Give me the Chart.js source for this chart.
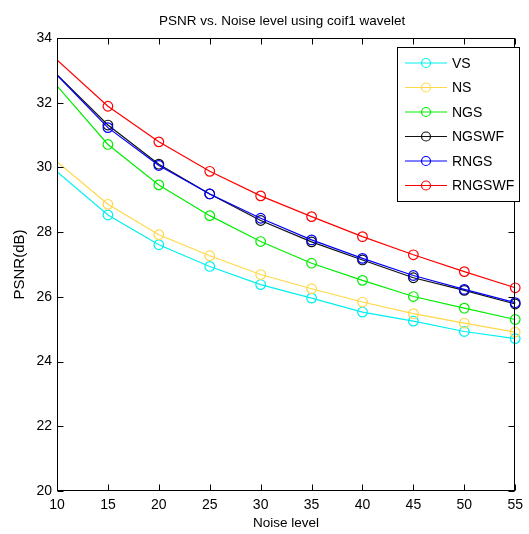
<!DOCTYPE html>
<html><head><meta charset="utf-8">
<script src="https://cdn.jsdelivr.net/npm/chart.js@4/dist/chart.umd.min.js"></script>
<style>html,body{margin:0;padding:0;background:#fff;overflow:hidden}canvas{display:block}</style>
</head><body>
<canvas id="c" width="529" height="534"></canvas>
<script>
const noiseLevels = [10,15,20,25,30,35,40,45,50,55];
const seriesNames = ['VS','NS','NGS','NGSWF','RNGS','RNGSWF'];
const vs     = [29.87,28.53,27.61,26.94,26.38,25.96,25.53,25.25,24.93,24.71];
const ns     = [30.18,28.86,27.92,27.27,26.69,26.25,25.84,25.48,25.19,24.91];
const ngs    = [32.52,30.71,29.46,28.51,27.71,27.04,26.51,26.01,25.65,25.30];
const ngswf  = [32.87,31.31,30.10,29.18,28.36,27.70,27.14,26.59,26.20,25.78];
const rngs   = [32.85,31.23,30.06,29.18,28.43,27.76,27.19,26.66,26.23,25.82];
const rngswf = [33.32,31.89,30.79,29.88,29.12,28.48,27.86,27.30,26.78,26.28];
const yTicks = [20,22,24,26,28,30,32,34];
const xTicks = [10,15,20,25,30,35,40,45,50,55];
const titleText = 'PSNR vs. Noise level using coif1 wavelet';
const xTitle = 'Noise level';
const yTitle = 'PSNR(dB)';

const seriesValues = [vs, ns, ngs, ngswf, rngs, rngswf];
const colors = ['#00F0F0','#FFD84A','#00EE00','#111111','#0000FF','#FF0000'];
const FONT = '"Liberation Sans", Arial, sans-serif';

const datasets = seriesNames.map((name, i) => ({
  label: name,
  data: noiseLevels.map((x, j) => ({x: x, y: seriesValues[i][j]})),
  borderColor: colors[i],
  pointBorderColor: colors[i],
  pointBackgroundColor: 'rgba(0,0,0,0)',
  borderWidth: 1.2,
  pointBorderWidth: 1.2,
  pointRadius: ctx => ctx.dataIndex === 0 ? 0 : 4.8,
  pointHoverRadius: 4.8,
  tension: 0,
  fill: false,
  order: seriesNames.length - i,
  clip: {left: 0, top: false, right: false, bottom: false}
}));

const framePlugin = {
  id: 'frame',
  afterDraw(chart) {
    const {ctx, chartArea: a, scales} = chart;
    ctx.save();
    ctx.strokeStyle = '#000';
    ctx.lineWidth = 1;
    const L = Math.round(a.left) + 0.5, R = Math.round(a.right) - 0.5;
    const T = Math.round(a.top) + 0.5, B = Math.round(a.bottom) - 0.5;
    ctx.strokeRect(L, T, R - L, B - T);
    const tl = 6;
    ctx.beginPath();
    xTicks.forEach(v => {
      const px = Math.round(scales.x.getPixelForValue(v)) + 0.5;
      ctx.moveTo(px, B); ctx.lineTo(px, B - tl);
      ctx.moveTo(px, T); ctx.lineTo(px, T + tl);
    });
    yTicks.forEach(v => {
      const py = Math.round(scales.y.getPixelForValue(v)) + 0.5;
      ctx.moveTo(L, py); ctx.lineTo(L + tl, py);
      ctx.moveTo(R, py); ctx.lineTo(R - tl, py);
    });
    ctx.stroke();

    // title
    ctx.fillStyle = '#000';
    ctx.font = '13.5px ' + FONT;
    ctx.textAlign = 'center';
    ctx.textBaseline = 'middle';
    ctx.fillText(titleText, (a.left + a.right) / 2 - 4, 21);

    // legend
    const bx = 397.5, by = 47.5, bw = 122, bh = 154;
    ctx.fillStyle = '#fff';
    ctx.fillRect(bx, by, bw, bh);
    ctx.strokeStyle = '#000';
    ctx.strokeRect(bx, by, bw, bh);
    ctx.font = '14px ' + FONT;
    ctx.textAlign = 'left';
    chart.data.datasets.forEach((ds, i) => {
      const y = 63 + i * 24.5;
      ctx.strokeStyle = ds.borderColor;
      ctx.lineWidth = 1.2;
      ctx.beginPath();
      ctx.moveTo(405, y); ctx.lineTo(447, y);
      ctx.stroke();
      ctx.beginPath();
      ctx.arc(426, y, 4.5, 0, Math.PI * 2);
      ctx.stroke();
      ctx.fillStyle = '#000';
      ctx.fillText(ds.label, 452, y + 1);
    });
    ctx.restore();
  }
};

new Chart(document.getElementById('c'), {
  type: 'line',
  data: {datasets},
  options: {
    responsive: false,
    animation: false,
    events: [],
    layout: {padding: {left: 0, right: 9, top: 38, bottom: 0}},
    plugins: {legend: {display: false}, tooltip: {enabled: false}, title: {display: false}},
    scales: {
      x: {
        type: 'linear', min: 10, max: 55,
        afterBuildTicks: s => { s.ticks = xTicks.map(v => ({value: v})); },
        afterFit: s => { s.height = 43; },
        ticks: {color: '#000', font: {family: FONT, size: 14}, padding: 6, maxRotation: 0, autoSkip: false},
        grid: {display: false, drawTicks: false},
        border: {display: false},
        title: {display: true, text: xTitle, color: '#000', font: {family: FONT, size: 13.5}, padding: {top: 0, bottom: 3}}
      },
      y: {
        type: 'linear', min: 20, max: 34,
        afterBuildTicks: s => { s.ticks = yTicks.map(v => ({value: v})); },
        afterFit: s => { s.width = 57; },
        ticks: {color: '#000', font: {family: FONT, size: 14}, padding: 5},
        grid: {display: false, drawTicks: false},
        border: {display: false},
        title: {display: true, text: yTitle, color: '#000', font: {family: FONT, size: 15}, padding: {top: 11, bottom: 0}}
      }
    }
  },
  plugins: [framePlugin]
});
</script>
</body></html>
